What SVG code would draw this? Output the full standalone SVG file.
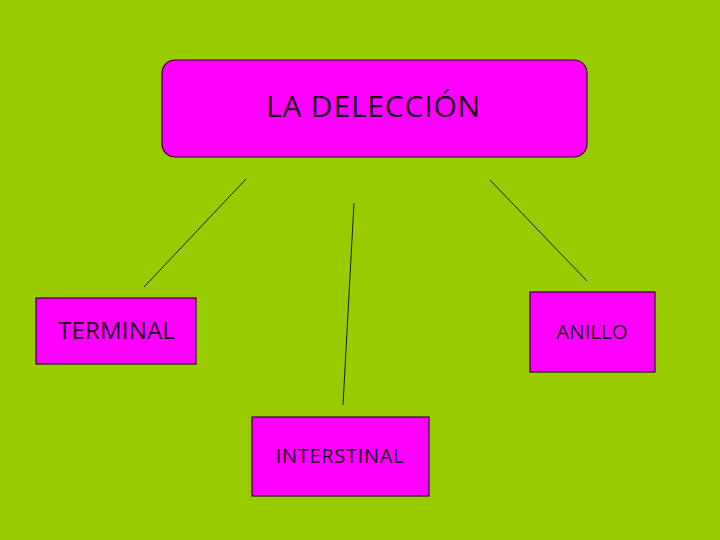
<svg xmlns="http://www.w3.org/2000/svg" width="720" height="540" viewBox="0 0 720 540">
<style>
.box{fill:#FF00FF;stroke:#330033;stroke-width:1.2}
.lbl{font-family:"Open Sans","Noto Sans","DejaVu Sans",sans-serif;fill:#1a001a}
.con{stroke:#1a1a1a;stroke-width:1;fill:none}
</style>
<rect x="0" y="0" width="720" height="540" fill="#99CC00"/>
<g id="connectors">
<line class="con" x1="246" y1="179" x2="144" y2="287"/>
<line class="con" x1="354" y1="203" x2="343" y2="405"/>
<line class="con" x1="490" y1="180" x2="587" y2="281"/>
</g>
<g id="node-delecion">
<rect class="box" x="162" y="60" width="425" height="97" rx="13" ry="13"/>
<text class="lbl" x="373.5" y="117" font-size="30" letter-spacing="0.8" text-anchor="middle">LA DELECCIÓN</text>
</g>
<g id="node-terminal">
<rect class="box" x="36" y="298" width="160" height="66"/>
<text class="lbl" x="116.5" y="339" font-size="24" letter-spacing="0.2" text-anchor="middle">TERMINAL</text>
</g>
<g id="node-anillo">
<rect class="box" x="530" y="292" width="125" height="80"/>
<text class="lbl" x="592" y="339" font-size="20.5" text-anchor="middle">ANILLO</text>
</g>
<g id="node-interstinal">
<rect class="box" x="252" y="417" width="177" height="79"/>
<text class="lbl" x="340" y="463" font-size="20" letter-spacing="0.7" text-anchor="middle">INTERSTINAL</text>
</g>
</svg>
